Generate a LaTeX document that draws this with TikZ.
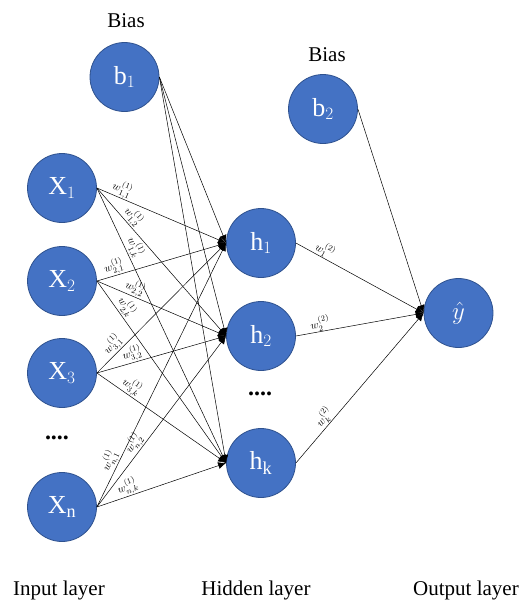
\documentclass[tikz,border=0pt]{standalone}
\usepackage{fontspec}
\setmainfont{Liberation Serif}
\usetikzlibrary{arrows.meta}
\definecolor{nblue}{HTML}{4472C4}
\definecolor{nborder}{HTML}{2F528F}
\begin{document}
\begin{tikzpicture}[x=1pt,y=-1pt,
  neuron/.style={circle, draw=nborder, fill=nblue, line width=0.8pt, minimum size=69pt, inner sep=0pt, text=white, font=\fontsize{26}{28}\selectfont},
  conn/.style={-{Latex[length=8pt,width=7pt]}, line width=0.5pt},
  wl/.style={font=\fontsize{11}{12}\selectfont, sloped, above, inner sep=0.5pt},
  title/.style={font=\fontsize{21}{23}\selectfont},
  dots/.style={font=\bfseries\fontsize{24}{24}\selectfont}]
\useasboundingbox (0,0) rectangle (521,608);

% nodes
\node[neuron] (b1) at (124.5,77) {$\mathrm{b}_1$};
\node[neuron] (x1) at (62,188) {$\mathrm{X}_1$};
\node[neuron] (x2) at (62,281) {$\mathrm{X}_2$};
\node[neuron] (x3) at (62,373) {$\mathrm{X}_3$};
\node[neuron] (xn) at (62,507) {$\mathrm{X}_\mathrm{n}$};
\node[neuron] (h1) at (261,243) {$\mathrm{h}_1$};
\node[neuron] (h2) at (261,336) {$\mathrm{h}_2$};
\node[neuron] (hk) at (261,463) {$\mathrm{h}_\mathrm{k}$};
\node[neuron] (b2) at (323,109) {$\mathrm{b}_2$};
\node[neuron] (y) at (458.5,313) {$\hat{y}$};

\node[title] (bias1) at (126,21) {Bias};
\node[title] (bias2) at (327,55) {Bias};
\node[dots] (dx) at (57,438) {....};
\node[dots] (dh) at (260,394) {....};
\node[title] (lin) at (59,590) {Input layer};
\node[title] (lhid) at (256,590) {Hidden layer};
\node[title] (lout) at (466,590) {Output layer};

% bias 1
\foreach \h in {h1,h2,hk}
  \draw[conn] (b1.east) -- (\h.west);

% input to hidden
\draw[conn] (x1.east) -- node[wl,pos=0.17] {$w_{1,1}^{(1)}$} (h1.west);
\draw[conn] (x1.east) -- node[wl,pos=0.23] {$w_{1,2}^{(1)}$} (h2.west);
\draw[conn] (x1.east) -- node[wl,pos=0.23] {$w_{1,k}^{(1)}$} (hk.west);
\draw[conn] (x2.east) -- node[wl,pos=0.15] {$w_{2,1}^{(1)}$} (h1.west);
\draw[conn] (x2.east) -- node[wl,pos=0.27] {$w_{2,2}^{(1)}$} (h2.west);
\draw[conn] (x2.east) -- node[wl,pos=0.17] {$w_{2,k}^{(1)}$} (hk.west);
\draw[conn] (x3.east) -- node[wl,pos=0.17] {$w_{3,1}^{(1)}$} (h1.west);
\draw[conn] (x3.east) -- node[wl,pos=0.29] {$w_{3,2}^{(1)}$} (h2.west);
\draw[conn] (x3.east) -- node[wl,pos=0.23] {$w_{3,k}^{(1)}$} (hk.west);
\draw[conn] (xn.east) -- node[wl,pos=0.16] {$w_{n,1}^{(1)}$} (h1.west);
\draw[conn] (xn.east) -- node[wl,pos=0.34] {$w_{n,2}^{(1)}$} (h2.west);
\draw[conn] (xn.east) -- node[wl,pos=0.26] {$w_{n,k}^{(1)}$} (hk.west);

% hidden to output
\draw[conn] (b2.east) -- (y.west);
\draw[conn] (h1.east) -- node[wl,pos=0.2] {$w_{1}^{(2)}$} (y.west);
\draw[conn] (h2.east) -- node[wl,pos=0.2] {$w_{2}^{(2)}$} (y.west);
\draw[conn] (hk.east) -- node[wl,pos=0.27] {$w_{k}^{(2)}$} (y.west);
\end{tikzpicture}
\end{document}
